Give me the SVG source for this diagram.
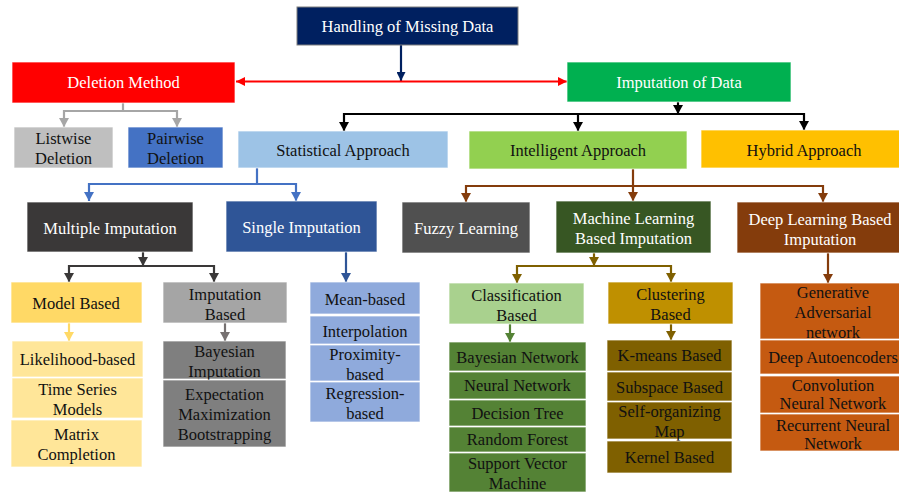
<svg xmlns="http://www.w3.org/2000/svg" width="899" height="492" viewBox="0 0 899 492">
<style>
text{font-family:'Liberation Serif','Times New Roman',serif;font-size:16.5px;text-anchor:middle;dominant-baseline:central}
.w{fill:#ffffff}
.k{fill:#111111}
rect{stroke:#ffffff;stroke-opacity:0.7;stroke-width:1}
.c{fill:none;stroke-width:2.2}
</style>
<defs>
<marker id="aNavy" markerUnits="userSpaceOnUse" markerWidth="10" markerHeight="9" refX="9" refY="4.5" orient="auto"><path d="M0,0 L9,4.5 L0,9 z" fill="#002060"/></marker>
<marker id="aRed" markerUnits="userSpaceOnUse" markerWidth="10" markerHeight="9" refX="9" refY="4.5" orient="auto-start-reverse"><path d="M0,0 L9,4.5 L0,9 z" fill="#FF0000"/></marker>
<marker id="aGray" markerUnits="userSpaceOnUse" markerWidth="10" markerHeight="10" refX="9" refY="5" orient="auto"><path d="M0,0 L9,5 L0,10 z" fill="#A6A6A6"/></marker>
<marker id="aBlack" markerUnits="userSpaceOnUse" markerWidth="10" markerHeight="10" refX="9" refY="5" orient="auto"><path d="M0,0 L9,5 L0,10 z" fill="#000000"/></marker>
<marker id="aBlue" markerUnits="userSpaceOnUse" markerWidth="10" markerHeight="10" refX="9" refY="5" orient="auto"><path d="M0,0 L9,5 L0,10 z" fill="#4472C4"/></marker>
<marker id="aBrown" markerUnits="userSpaceOnUse" markerWidth="10" markerHeight="10" refX="9" refY="5" orient="auto"><path d="M0,0 L9,5 L0,10 z" fill="#843C0C"/></marker>
<marker id="aDark" markerUnits="userSpaceOnUse" markerWidth="10" markerHeight="10" refX="9" refY="5" orient="auto"><path d="M0,0 L9,5 L0,10 z" fill="#3A3838"/></marker>
<marker id="aYellow" markerUnits="userSpaceOnUse" markerWidth="10" markerHeight="10" refX="9" refY="5" orient="auto"><path d="M0,0 L9,5 L0,10 z" fill="#FFD966"/></marker>
<marker id="aMid" markerUnits="userSpaceOnUse" markerWidth="10" markerHeight="10" refX="9" refY="5" orient="auto"><path d="M0,0 L9,5 L0,10 z" fill="#767171"/></marker>
<marker id="aBlue2" markerUnits="userSpaceOnUse" markerWidth="10" markerHeight="10" refX="9" refY="5" orient="auto"><path d="M0,0 L9,5 L0,10 z" fill="#2F5597"/></marker>
<marker id="aOlive" markerUnits="userSpaceOnUse" markerWidth="10" markerHeight="10" refX="9" refY="5" orient="auto"><path d="M0,0 L9,5 L0,10 z" fill="#7F6000"/></marker>
<marker id="aGreen" markerUnits="userSpaceOnUse" markerWidth="10" markerHeight="10" refX="9" refY="5" orient="auto"><path d="M0,0 L9,5 L0,10 z" fill="#548235"/></marker>
</defs>

<g id="connectors">
<line class="c" x1="401" y1="45" x2="401" y2="81" stroke="#002060" marker-end="url(#aNavy)"/>
<line class="c" x1="236" y1="81.5" x2="567" y2="81.5" stroke="#FF0000" marker-start="url(#aRed)" marker-end="url(#aRed)"/>
<path class="c" d="M123,103 V111 M64,111 H177" stroke="#A6A6A6" stroke-width="3"/>
<line class="c" x1="64" y1="110" x2="64" y2="127" stroke="#A6A6A6" stroke-width="3" marker-end="url(#aGray)"/>
<line class="c" x1="177" y1="110" x2="177" y2="127" stroke="#A6A6A6" stroke-width="3" marker-end="url(#aGray)"/>
<line class="c" x1="678" y1="102" x2="678" y2="114" stroke="#000000" stroke-width="2.6" marker-end="url(#aBlack)"/>
<line class="c" x1="344" y1="114" x2="804" y2="114" stroke="#000000" stroke-width="2.6"/>
<line class="c" x1="344" y1="113" x2="344" y2="131" stroke="#000000" stroke-width="2.6" marker-end="url(#aBlack)"/>
<line class="c" x1="578" y1="113" x2="578" y2="131" stroke="#000000" stroke-width="2.6" marker-end="url(#aBlack)"/>
<line class="c" x1="804" y1="113" x2="804" y2="130" stroke="#000000" stroke-width="2.6" marker-end="url(#aBlack)"/>
<path class="c" d="M257,168 V184 M89,184 H296" stroke="#4472C4"/>
<line class="c" x1="89" y1="183" x2="89" y2="201" stroke="#4472C4" marker-end="url(#aBlue)"/>
<line class="c" x1="296" y1="183" x2="296" y2="201" stroke="#4472C4" marker-end="url(#aBlue)"/>
<path class="c" d="M633,169 V186 M466,186 H823" stroke="#843C0C"/>
<line class="c" x1="466" y1="185" x2="466" y2="202" stroke="#843C0C" marker-end="url(#aBrown)"/>
<line class="c" x1="633" y1="185" x2="633" y2="201" stroke="#843C0C" marker-end="url(#aBrown)"/>
<line class="c" x1="823" y1="185" x2="823" y2="202" stroke="#843C0C" marker-end="url(#aBrown)"/>
<line class="c" x1="143" y1="252" x2="143" y2="266" stroke="#3A3838" marker-end="url(#aDark)"/>
<line class="c" x1="69" y1="266" x2="214" y2="266" stroke="#3A3838"/>
<line class="c" x1="69" y1="265" x2="69" y2="282" stroke="#3A3838" marker-end="url(#aDark)"/>
<line class="c" x1="214" y1="265" x2="214" y2="282" stroke="#3A3838" marker-end="url(#aDark)"/>
<line class="c" x1="69" y1="323" x2="69" y2="341" stroke="#FFD966" marker-end="url(#aYellow)"/>
<line class="c" x1="225" y1="323" x2="225" y2="341" stroke="#767171" marker-end="url(#aMid)"/>
<line class="c" x1="346" y1="252" x2="346" y2="282" stroke="#2F5597" marker-end="url(#aBlue2)"/>
<line class="c" x1="594" y1="253" x2="594" y2="266" stroke="#7F6000" marker-end="url(#aOlive)"/>
<line class="c" x1="517" y1="266" x2="671" y2="266" stroke="#7F6000"/>
<line class="c" x1="517" y1="265" x2="517" y2="283" stroke="#7F6000" marker-end="url(#aOlive)"/>
<line class="c" x1="671" y1="265" x2="671" y2="282" stroke="#7F6000" marker-end="url(#aOlive)"/>
<line class="c" x1="510" y1="324" x2="510" y2="342" stroke="#548235" marker-end="url(#aGreen)"/>
<line class="c" x1="671" y1="324" x2="671" y2="340" stroke="#7F6000" marker-end="url(#aOlive)"/>
<line class="c" x1="828" y1="253" x2="828" y2="283" stroke="#843C0C" marker-end="url(#aBrown)"/>
</g>

<g font-family="Liberation Serif, Times New Roman, serif">
<g id="handling"><rect x="297" y="7" width="221" height="38" fill="#002060" style="stroke:#7F7F7F;stroke-opacity:1"/><text class="w" x="407.5" y="26">Handling of Missing Data</text></g>
<g id="deletion"><rect x="12" y="62" width="223" height="41" fill="#FF0000"/><text class="w" x="123.5" y="82.5">Deletion Method</text></g>
<g id="imputation"><rect x="567" y="62" width="224" height="40" fill="#00B050"/><text class="w" x="679" y="82">Imputation of Data</text></g>
<g id="listwise"><rect x="14" y="127" width="99" height="41" fill="#BFBFBF"/><text class="k" x="63.5" y="138">Listwise</text><text class="k" x="63.5" y="158">Deletion</text></g>
<g id="pairwise"><rect x="128" y="127" width="95" height="41" fill="#4472C4"/><text class="k" x="175.5" y="138">Pairwise</text><text class="k" x="175.5" y="158">Deletion</text></g>
<g id="statistical"><rect x="238" y="131" width="210" height="37" fill="#9DC3E6"/><text class="k" x="343" y="150">Statistical Approach</text></g>
<g id="intelligent"><rect x="469" y="131" width="218" height="38" fill="#92D050"/><text class="k" x="578" y="150">Intelligent Approach</text></g>
<g id="hybrid"><rect x="701" y="130" width="199" height="38" fill="#FFC000"/><text class="k" x="804" y="150">Hybrid Approach</text></g>
<g id="multiple"><rect x="27" y="202" width="166" height="50" fill="#3A3838"/><text class="w" x="110" y="228">Multiple Imputation</text></g>
<g id="single"><rect x="226" y="201" width="151" height="51" fill="#2F5597"/><text class="w" x="301.5" y="227">Single Imputation</text></g>
<g id="fuzzy"><rect x="402" y="202" width="128" height="51" fill="#505050"/><text class="w" x="466" y="228">Fuzzy Learning</text></g>
<g id="ml"><rect x="556" y="201" width="155" height="52" fill="#375623"/><text class="w" x="633.5" y="218">Machine Learning</text><text class="w" x="633.5" y="238">Based Imputation</text></g>
<g id="dl"><rect x="737" y="202" width="163" height="51" fill="#843C0C"/><text class="w" x="820" y="219">Deep Learning Based</text><text class="w" x="820" y="239">Imputation</text></g>
<g id="model"><rect x="11" y="282" width="131" height="41" fill="#FFD966"/><text class="k" x="76" y="303">Model Based</text></g>
<g id="impbased"><rect x="163" y="282" width="124" height="41" fill="#A5A5A5"/><text class="k" x="225" y="294">Imputation</text><text class="k" x="225" y="314">Based</text></g>
<g id="likelihood"><rect x="12" y="341" width="131" height="36" fill="#FFE699"/><text class="k" x="77.5" y="359">Likelihood-based</text></g>
<g id="timeseries"><rect x="12" y="378" width="131" height="40" fill="#FFE699"/><text class="k" x="77.5" y="389">Time Series</text><text class="k" x="77.5" y="409">Models</text></g>
<g id="matrix"><rect x="11" y="420" width="131" height="47" fill="#FFE699"/><text class="k" x="76.5" y="434">Matrix</text><text class="k" x="76.5" y="454">Completion</text></g>
<g id="bayesimp"><rect x="163" y="341" width="123" height="38" fill="#7F7F7F"/><text class="k" x="224.5" y="351">Bayesian</text><text class="k" x="224.5" y="371">Imputation</text></g>
<g id="expectation"><rect x="163" y="380" width="123" height="67" fill="#7F7F7F"/><text class="k" x="224.5" y="394">Expectation</text><text class="k" x="224.5" y="414">Maximization</text><text class="k" x="224.5" y="434">Bootstrapping</text></g>
<g id="mean"><rect x="310" y="282" width="110" height="32" fill="#8FAADC"/><text class="k" x="365" y="299">Mean-based</text></g>
<g id="interp"><rect x="310" y="316" width="110" height="28" fill="#8FAADC"/><text class="k" x="365" y="331">Interpolation</text></g>
<g id="proximity"><rect x="310" y="345" width="110" height="36" fill="#8FAADC"/><text class="k" x="365" y="354">Proximity-</text><text class="k" x="365" y="374">based</text></g>
<g id="regression"><rect x="310" y="382" width="110" height="40" fill="#8FAADC"/><text class="k" x="365" y="393">Regression-</text><text class="k" x="365" y="413">based</text></g>
<g id="classification"><rect x="449" y="283" width="135" height="41" fill="#A9D18E"/><text class="k" x="516.5" y="295">Classification</text><text class="k" x="516.5" y="315">Based</text></g>
<g id="clustering"><rect x="608" y="282" width="125" height="42" fill="#BF9000"/><text class="k" x="670.5" y="294">Clustering</text><text class="k" x="670.5" y="314">Based</text></g>
<g id="bn"><rect x="449" y="342" width="137" height="29" fill="#548235"/><text class="k" x="517.5" y="357">Bayesian Network</text></g>
<g id="nn"><rect x="449" y="372" width="137" height="27" fill="#548235"/><text class="k" x="517.5" y="385.5">Neural Network</text></g>
<g id="dt"><rect x="449" y="400" width="137" height="26" fill="#548235"/><text class="k" x="517.5" y="413.5">Decision Tree</text></g>
<g id="rf"><rect x="449" y="427" width="137" height="25" fill="#548235"/><text class="k" x="517.5" y="439.5">Random Forest</text></g>
<g id="svm"><rect x="449" y="453" width="137" height="39" fill="#548235"/><text class="k" x="517.5" y="463">Support Vector</text><text class="k" x="517.5" y="483">Machine</text></g>
<g id="kmeans"><rect x="607" y="340" width="125" height="31" fill="#7F6000"/><text class="k" x="669.5" y="355">K-means Based</text></g>
<g id="subspace"><rect x="607" y="372" width="125" height="29" fill="#7F6000"/><text class="k" x="669.5" y="387">Subspace Based</text></g>
<g id="som"><rect x="607" y="402" width="125" height="37" fill="#7F6000"/><text class="k" x="669.5" y="411">Self-organizing</text><text class="k" x="669.5" y="431">Map</text></g>
<g id="kernel"><rect x="607" y="441" width="125" height="32" fill="#7F6000"/><text class="k" x="669.5" y="457">Kernel Based</text></g>
<g id="gan"><rect x="760" y="283" width="140" height="56" fill="#C55A11"/><text class="k" x="833" y="292">Generative</text><text class="k" x="833" y="312">Adversarial</text><text class="k" x="833" y="332">network</text></g>
<g id="dae"><rect x="760" y="340" width="140" height="34" fill="#C55A11"/><text class="k" x="833" y="357">Deep Autoencoders</text></g>
<g id="cnn"><rect x="760" y="376" width="140" height="37" fill="#C55A11"/><text class="k" x="833" y="385">Convolution</text><text class="k" x="833" y="403">Neural Network</text></g>
<g id="rnn"><rect x="760" y="414" width="140" height="37" fill="#C55A11"/><text class="k" x="833" y="425">Recurrent Neural</text><text class="k" x="833" y="443">Network</text></g>
</g>
</svg>
